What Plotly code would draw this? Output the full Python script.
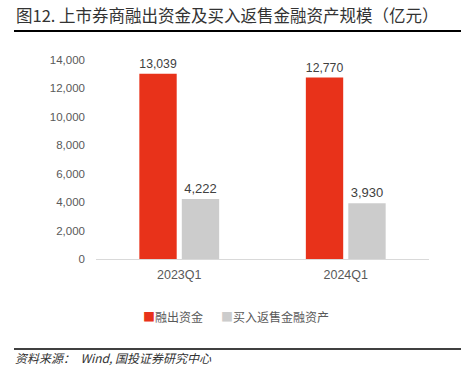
import plotly.graph_objects as go

categories = ["2023Q1", "2024Q1"]
series_names = ["融出资金", "买入返售金融资产"]
margin_lending = [13039, 12770]
reverse_repo = [4222, 3930]
tick_vals = [0, 2000, 4000, 6000, 8000, 10000, 12000, 14000]
title_text = "图12. 上市券商融出资金及买入返售金融资产规模（亿元）"
source_text = "资料来源：  Wind, 国投证券研究中心"

FONT = "Noto Sans CJK SC, Liberation Sans, Arial, sans-serif"
LAT = "Liberation Sans, Arial, sans-serif"
RED = "#E8321A"
GRAY = "#CCCCCC"
colors = [RED, GRAY]

W, H = 471, 373
L, R, T, B = 96, 429, 60, 259
PW, PH = R - L, B - T


def px(x):
    return (x - L) / PW


def py(y):
    return (B - y) / PH


fig = go.Figure()
for name, vals, color in zip(series_names, [margin_lending, reverse_repo], colors):
    fig.add_trace(go.Bar(
        x=categories, y=vals, name=name, marker_color=color,
        marker_line_width=0, showlegend=False,
        text=[f"{v:,}" for v in vals], textposition="outside",
        textfont=dict(size=13, color="#404040", family=LAT),
        cliponaxis=False,
    ))

fig.update_layout(
    width=W, height=H,
    margin=dict(l=L, r=W - R, t=T, b=H - B),
    paper_bgcolor="white", plot_bgcolor="white",
    barmode="group", bargap=0.49, bargroupgap=0.12,
    font=dict(family=FONT, size=11, color="#595959"),
    showlegend=False,
    xaxis=dict(showline=True, linecolor="#D9D9D9", linewidth=1, ticks="",
               ticklabelstandoff=4,
               tickfont=dict(size=12.5, color="#595959", family=LAT)),
    yaxis=dict(range=[0, 14000], tickvals=tick_vals, tickformat=",",
               showgrid=False, zeroline=False, showline=False, ticks="",
               ticklabelstandoff=10,
               tickfont=dict(size=11.5, color="#595959", family=LAT)),
)

# title
fig.add_annotation(xref="paper", yref="paper", x=px(14), y=py(15),
                   xanchor="left", yanchor="middle", showarrow=False,
                   text=title_text, font=dict(size=16.5, color="#333333", family=FONT))
# source
fig.add_annotation(xref="paper", yref="paper", x=px(13), y=py(357),
                   xanchor="left", yanchor="middle", showarrow=False,
                   text=source_text,
                   font=dict(size=12, color="#333333", family=FONT, style="italic"))
# legend (as text with coloured squares)
for name, color, xl in zip(series_names, colors, [141, 219]):
    fig.add_annotation(xref="paper", yref="paper", x=px(xl), y=py(316),
                       xanchor="left", yanchor="middle", showarrow=False,
                       text=f"<span style='color:{color}'>■</span>{name}",
                       font=dict(size=12, color="#595959", family=FONT))
# horizontal rules
for yy, wd in [(31, 2), (349, 1.5)]:
    fig.add_shape(type="line", xref="paper", yref="paper",
                  x0=px(14), x1=px(461), y0=py(yy), y1=py(yy),
                  line=dict(color="#000000", width=wd))

fig.write_html("out.html", config={"displayModeBar": False},
               post_script="document.body.style.margin='0';")
